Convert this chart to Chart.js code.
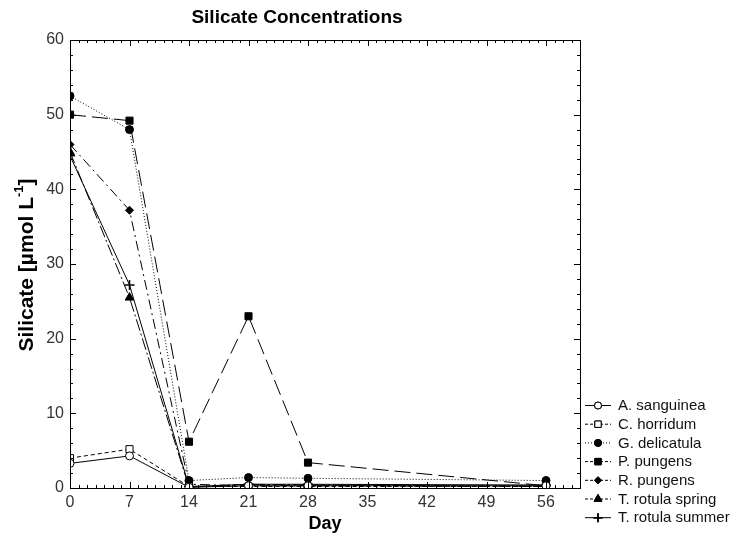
<!DOCTYPE html>
<html>
<head>
<meta charset="utf-8">
<script src="https://cdn.jsdelivr.net/npm/chart.js@4"></script>
<style>
	body { margin:0; background:#fff; }
	#wrap { width:737px; height:544px; position:relative; }
</style>
</head>
<body>
<div id="wrap"><canvas id="c"></canvas></div>
<script>
const days = [0, 7, 14, 21, 28, 56]
const xTicks = [0, 7, 14, 21, 28, 35, 42, 49, 56]
const yTicks = [0, 10, 20, 30, 40, 50, 60]

const aSanguinea = [3.3, 4.3, 0.1, 0.3, 0.3, 0.3]
const cHorridum = [4.0, 5.2, 0.2, 0.2, 0.2, 0.2]
const gDelicatula = [52.5, 48.0, 1.0, 1.4, 1.3, 1.0]
const pPungens = [50.0, 49.2, 6.2, 23.0, 3.4, 0.3]
const rPungens = [46.0, 37.2, 0.5, 0.3, 0.3, 0.2]
const tRotulaSpring = [45.0, 25.5, 0.1, 0.5, 0.4, 0.2]
const tRotulaSummer = [44.5, 27.2, 0.2, 0.5, 0.5, 0.4]

const FONT = '"Liberation Sans", Arial, sans-serif'

const mk = (label, vals, style, dash, fill, r) => ({
	label: label,
	data: days.map((d, i) => ({x: d, y: vals[i]})),
	borderColor: '#000',
	borderWidth: 1,
	borderDash: dash,
	pointStyle: style,
	pointRadius: r,
	pointBackgroundColor: fill,
	pointBorderColor: '#000',
	pointBorderWidth: style === 'cross' ? 1.5 : 1,
	tension: 0,
	fill: false,
})

const sets = [
	mk('A. sanguinea', aSanguinea, 'circle', [], '#fff', 4),
	mk('C. horridum', cHorridum, 'rect', [4, 3], '#fff', 5),
	mk('G. delicatula', gDelicatula, 'circle', [1, 2], '#000', 4),
	mk('P. pungens', pPungens, 'rect', [16, 6], '#000', 5),
	mk('R. pungens', rPungens, 'rectRot', [10, 4, 2, 4], '#000', 4),
	mk('T. rotula spring', tRotulaSpring, 'triangle', [12, 3, 2, 3], '#000', 5),
	mk('T. rotula summer', tRotulaSummer, 'cross', [], '#000', 5),
]

// frame, inner ticks, titles, legend
const deco = {
	id: 'deco',
	afterDraw(ch) {
		const g = ch.ctx, a = ch.chartArea, xs = ch.scales.x, ys = ch.scales.y
		g.save()
		g.strokeStyle = '#000'
		g.lineWidth = 1
		g.setLineDash([])
		g.strokeRect(a.left + 0.5, a.top + 0.5, a.right - a.left, a.bottom - a.top)
		g.beginPath()
		for (let d = 0; d <= 60; d++) {
			const x = Math.round(xs.getPixelForValue(d)) + 0.5
			const l = d % 7 === 0 ? 6 : 3
			g.moveTo(x, a.bottom); g.lineTo(x, a.bottom - l)
			g.moveTo(x, a.top); g.lineTo(x, a.top + l)
		}
		for (let v = 0; v <= 60; v += 2) {
			const y = Math.round(ys.getPixelForValue(v)) + 0.5
			const l = v % 10 === 0 ? 6 : 3
			g.moveTo(a.left, y); g.lineTo(a.left + l, y)
			g.moveTo(a.right, y); g.lineTo(a.right - l, y)
		}
		g.stroke()

		g.fillStyle = '#000'
		g.textAlign = 'center'
		g.textBaseline = 'middle'
		g.font = 'bold 19px ' + FONT
		g.fillText('Silicate Concentrations', 297, 18)
		g.font = 'bold 18px ' + FONT
		g.fillText('Day', (a.left + a.right) / 2, 524)
		// y axis title with superscript
		g.translate(27, 265)
		g.rotate(-Math.PI / 2)
		g.textAlign = 'left'
		g.font = 'bold 21px ' + FONT
		const t1 = 'Silicate [µmol L'
		const w1 = g.measureText(t1).width
		g.font = 'bold 13px ' + FONT
		const w2 = g.measureText('-1').width
		g.font = 'bold 21px ' + FONT
		const w3 = g.measureText(']').width
		let x0 = -(w1 + w2 + w3) / 2
		g.fillText(t1, x0, 0)
		g.font = 'bold 13px ' + FONT
		g.fillText('-1', x0 + w1, -8)
		g.font = 'bold 21px ' + FONT
		g.fillText(']', x0 + w1 + w2, 0)
		g.restore()

		g.save()
		g.font = '15px ' + FONT
		g.textBaseline = 'middle'
		g.fillStyle = '#000'
		ch.data.datasets.forEach((s, i) => {
			const y = 405 + i * 18.7
			g.strokeStyle = '#000'
			g.lineWidth = 1
			g.setLineDash(s.borderDash.length ? [3, 2] : [])
			if (s.label === 'G. delicatula') g.setLineDash([1, 2])
			g.beginPath(); g.moveTo(585, y + 0.5); g.lineTo(611, y + 0.5); g.stroke()
			g.setLineDash([])
			g.lineWidth = s.pointBorderWidth
			Chart.helpers.drawPoint(g, {pointStyle: s.pointStyle, radius: s.pointRadius - 0.5, borderWidth: s.pointBorderWidth}, 598, y + 0.5)
			g.fillStyle = s.pointBackgroundColor
			if (s.pointStyle !== 'cross') g.fill()
			g.stroke()
			g.fillStyle = '#111'
			g.fillText(s.label, 618, y + 1)
		})
		g.restore()
	}
}

new Chart(document.getElementById('c'), {
	type: 'line',
	data: { datasets: sets },
	options: {
		responsive: true,
		maintainAspectRatio: false,
		animation: false,
		layout: { padding: { top: 40, right: 157, left: 0, bottom: 0 } },
		plugins: { legend: { display: false }, tooltip: { enabled: false } },
		scales: {
			x: {
				type: 'linear', min: 0, max: 60,
				afterBuildTicks: s => { s.ticks = xTicks.map(v => ({value: v})) },
				afterFit: s => { s.height = 56 },
				grid: { display: false, drawTicks: false },
				border: { display: false },
				ticks: { color: '#333', font: { size: 16, family: FONT }, padding: 5, maxRotation: 0 }
			},
			y: {
				min: 0, max: 60,
				afterBuildTicks: s => { s.ticks = yTicks.map(v => ({value: v})) },
				afterFit: s => { s.width = 70 },
				grid: { display: false, drawTicks: false },
				border: { display: false },
				ticks: { color: '#333', font: { size: 16, family: FONT }, padding: 6 }
			}
		}
	},
	plugins: [deco]
})
</script>
</body>
</html>
